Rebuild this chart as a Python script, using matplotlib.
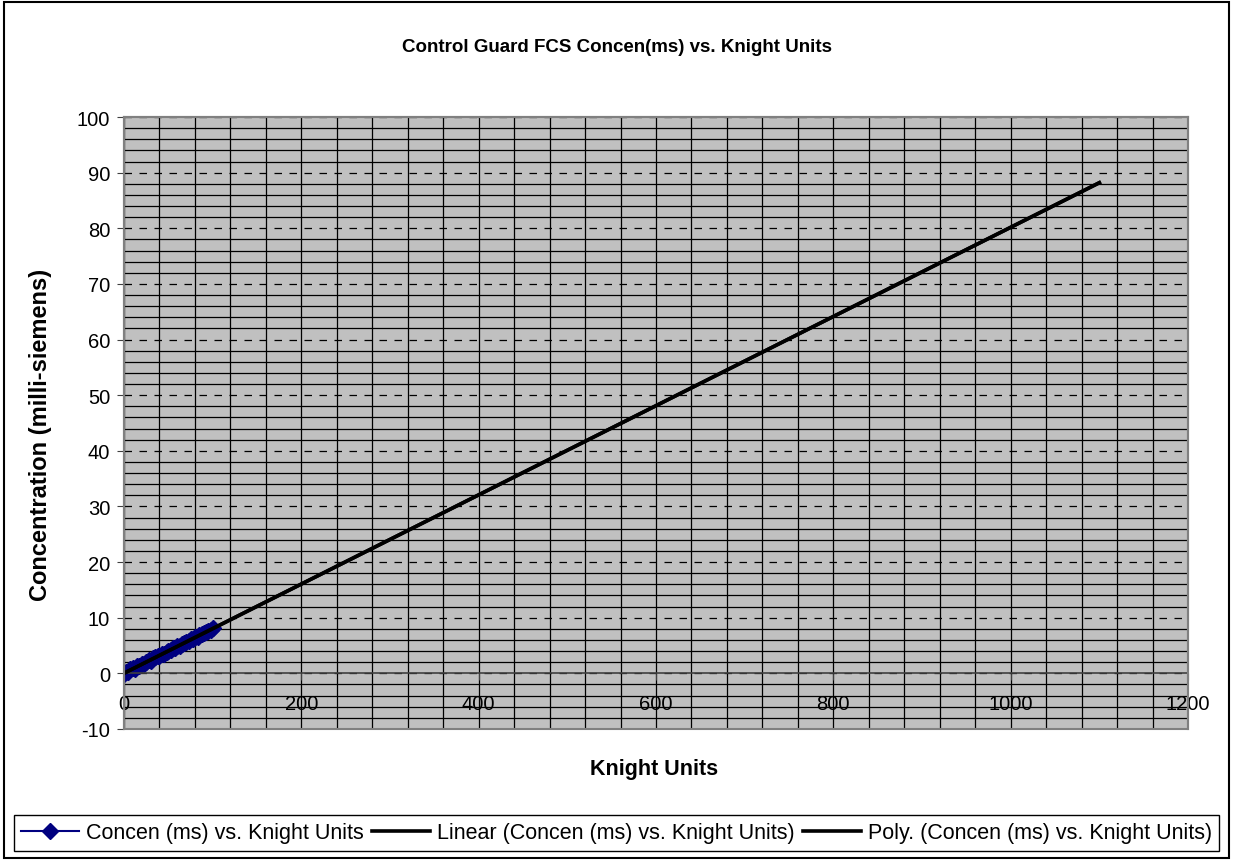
import matplotlib
matplotlib.use("Agg")
import matplotlib.pyplot as plt
from matplotlib.ticker import MultipleLocator
from matplotlib.patches import Rectangle
import numpy as np

plt.rcParams['font.family'] = ['Liberation Sans', 'DejaVu Sans']
plt.rcParams['axes.unicode_minus'] = False

# measured points (Knight units vs concentration in mS)
knight = [0, 2, 5, 7, 10, 12, 15, 17, 20, 22, 25, 28, 30, 33, 35, 38, 40, 43, 45, 48,
          50, 53, 55, 58, 60, 63, 65, 68, 70, 73, 75, 78, 80, 83, 85, 88, 90, 93, 95, 98, 100]
concen = [-0.1, 0.3, 0.3, 0.7, 0.9, 0.8, 1.3, 1.4, 1.7, 1.6, 2.1, 2.4, 2.3, 2.7, 2.9, 3.1,
          3.2, 3.5, 3.5, 3.9, 4.1, 4.2, 4.5, 4.6, 4.9, 5.0, 5.3, 5.4, 5.7, 5.8, 6.1, 6.2,
          6.5, 6.6, 6.9, 7.0, 7.3, 7.4, 7.7, 7.8, 8.1]
trend_end = 1100  # trendline forecast forward to this x

series_label = "Concen (ms) vs. Knight Units"

fig = plt.figure(figsize=(12.33, 8.62), dpi=100)
ax = fig.add_axes([124/1233, 1-730/862, (1188-124)/1233, (730-118)/862])
ax.set_facecolor('#C0C0C0')

# trendlines
fit = np.polyfit(knight, concen, 1)
tx = np.linspace(0, trend_end, 50)
ty = np.polyval(fit, tx)
ax.plot(tx, ty, color='black', lw=2.6, label="Linear (" + series_label + ")", zorder=3)
ax.plot(tx, ty, color='black', lw=2.6, label="Poly. (" + series_label + ")", zorder=3)

ax.plot(knight, concen, color='#000080', lw=1.5, marker='D', ms=8,
        label=series_label, zorder=2)

ax.set_xlim(0, 1200)
ax.set_ylim(-10, 100)
ax.xaxis.set_major_locator(MultipleLocator(200))
ax.xaxis.set_minor_locator(MultipleLocator(40))
ax.yaxis.set_major_locator(MultipleLocator(10))
ax.yaxis.set_minor_locator(MultipleLocator(2))

ax.grid(which='minor', color='black', lw=0.9, zorder=0)
ax.grid(which='major', axis='x', color='black', lw=0.9)
ax.grid(which='major', axis='y', color='black', lw=0.9, ls=(0, (6, 6)))
ax.set_axisbelow(True)

ax.tick_params(which='minor', length=0)
ax.tick_params(axis='both', which='major', labelsize=14.5, direction='out',
               length=5, color='#404040')
ax.tick_params(axis='x', pad=10)
ax.tick_params(axis='y', pad=5)

for s in ['left', 'top', 'right']:
    ax.spines[s].set_color('#808080')
    ax.spines[s].set_linewidth(1.5)
ax.spines['bottom'].set_position(('data', 0))
ax.spines['bottom'].set_color('#404040')
ax.spines['bottom'].set_linewidth(1.2)
ax.add_patch(Rectangle((0, 0), 1, 1, transform=ax.transAxes, fill=False,
                       ec='#808080', lw=1.5, clip_on=False, zorder=5))

ax.set_ylabel("Concentration (milli-siemens)", fontsize=17, fontweight='bold')
ax.yaxis.set_label_coords((52-124)/1064, (730-435)/612)
fig.text(654/1233, 1-770/862, "Knight Units", fontsize=15.5, fontweight='bold',
         ha='center', va='center')
fig.text(617/1233, 1-48/862, "Control Guard FCS Concen(ms) vs. Knight Units",
         fontsize=13.5, fontweight='bold', ha='center', va='center')

h, l = ax.get_legend_handles_labels()
order = [2, 0, 1]
leg = fig.legend([h[i] for i in order], [l[i] for i in order], loc='center',
                 bbox_to_anchor=(0.5, 1-834/862), ncol=3, fontsize=15.5,
                 handlelength=2.7, handletextpad=0.3, columnspacing=0.4,
                 fancybox=False, edgecolor='black', framealpha=1,
                 borderpad=0.35, borderaxespad=0)
leg.get_frame().set_linewidth(1.0)

fig.add_artist(Rectangle((4/1233, 3/862), 1-8/1233, 1-6/862, transform=fig.transFigure,
                         fill=False, ec='black', lw=1.5))

fig.savefig("out.png", dpi=100)
